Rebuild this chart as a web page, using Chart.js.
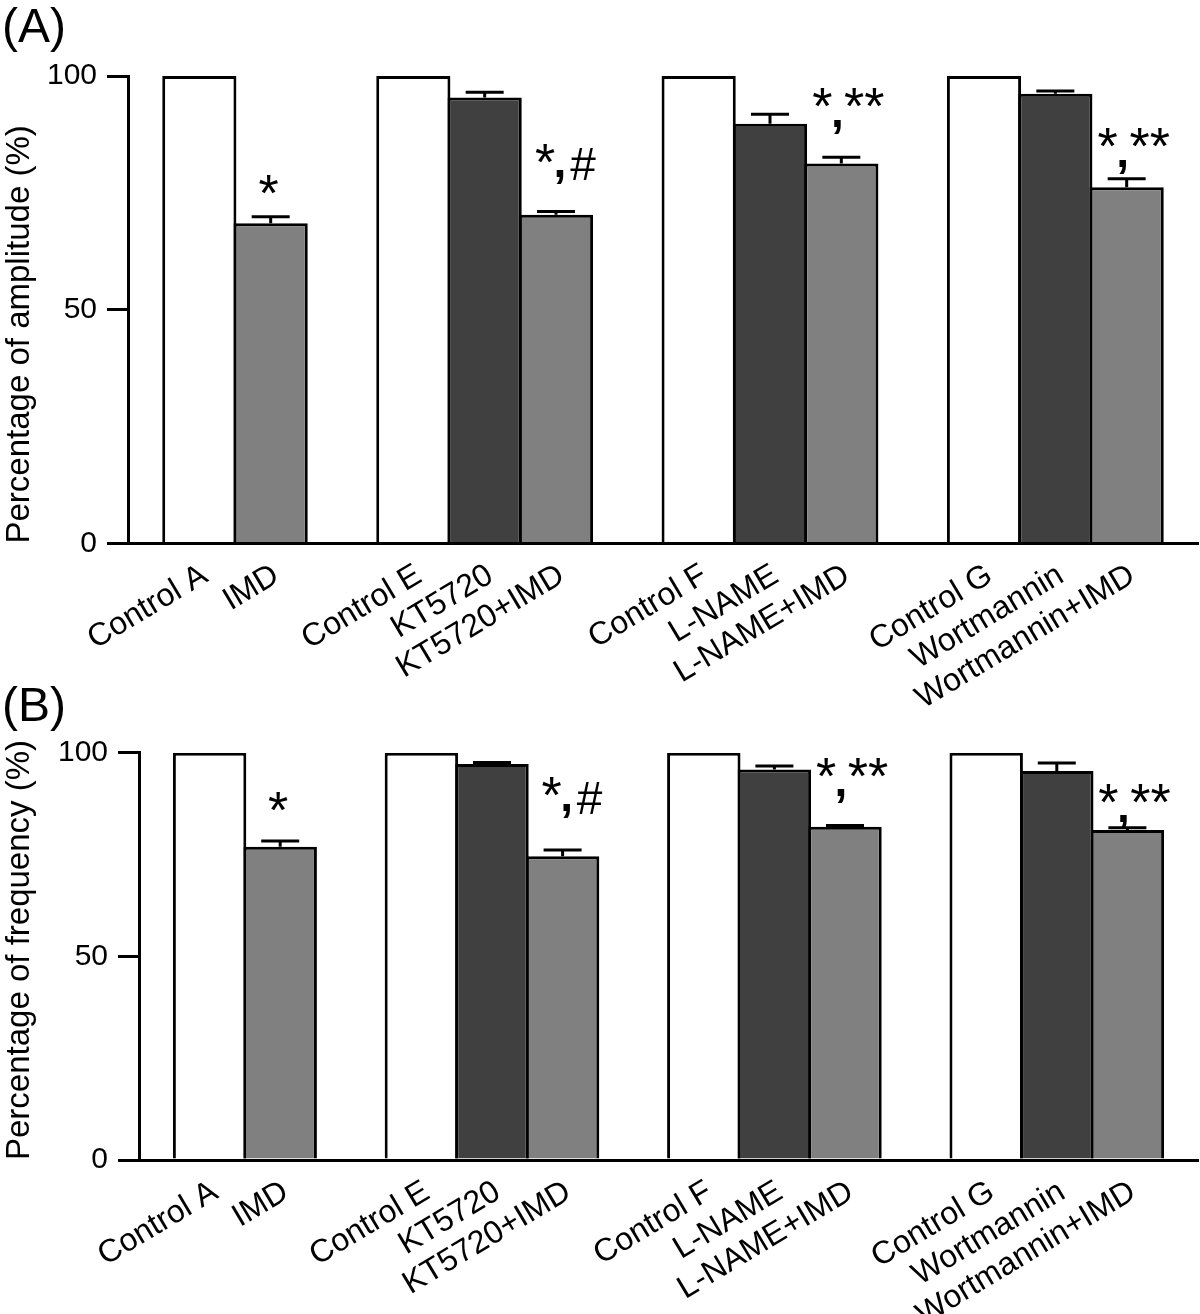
<!DOCTYPE html>
<html>
<head>
<meta charset="utf-8">
<script src="https://cdn.jsdelivr.net/npm/chart.js@4.4.1/dist/chart.umd.min.js"></script>
<style>
    html, body { margin: 0; padding: 0; background: #fff; }
    #page { position: relative; width: 1200px; height: 1314px; overflow: hidden; }
    .panel-label { position: absolute; left: 2px; font: 48px "Liberation Sans", Arial, sans-serif; line-height: 48px; color: #000; z-index: 3; }
    .wrap { position: absolute; left: 0; width: 1200px; }
</style>
</head>
<body>
<div id="page">
    <div class="panel-label" style="top:2px">(A)</div>
    <div class="wrap" style="top:0;height:760px;z-index:1"><canvas id="ampChart" width="1200" height="760"></canvas></div>
    <div class="panel-label" style="top:681px">(B)</div>
    <div class="wrap" style="top:660px;height:654px;z-index:2"><canvas id="freqChart" width="1200" height="654"></canvas></div>
</div>
<script>
// Bars and where they sit on the x axis (empty slots separate the groups)
var categories = ['Control A', 'IMD', 'Control E', 'KT5720', 'KT5720+IMD', 'Control F', 'L-NAME', 'L-NAME+IMD', 'Control G', 'Wortmannin', 'Wortmannin+IMD'];
var slots = [0, 1, 3, 4, 5, 7, 8, 9, 11, 12, 13];
var barKinds = ['control', 'imd', 'control', 'drug', 'imd', 'control', 'drug', 'imd', 'control', 'drug', 'imd'];

// (A) amplitude
var ampValues = [100, 68.5, 100, 95.4, 70.3, 100, 89.8, 81.3, 100, 96.2, 76.2];
var ampErrors = [0, 1.4, 0, 1.1, 0.7, 0, 2.0, 1.3, 0, 0.6, 1.8];
var ampMarks = ['', '*', '', '', '*,#', '', '', '*,**', '', '', '*,**'];
var ampMarkAt = [null, 76.7, null, null, 83.5, null, null, 95.3, null, null, 86.8];

// (B) frequency
var freqValues = [100, 76.9, 100, 97.2, 74.6, 100, 95.9, 81.8, 100, 95.5, 81.0];
var freqErrors = [0, 1.4, 0, 0.4, 1.5, 0, 0.85, 0.35, 0, 2.0, 0.6];
var freqMarks = ['', '*', '', '', '*,#', '', '', '*,**', '', '', '*,**'];
var freqMarkAt = [null, 88.0, null, null, 91.7, null, null, 96.4, null, null, 90.0];

var yTicks = [0, 50, 100];

var fillColors = { control: '#ffffff', drug: '#404040', imd: '#808080' };
var FONT = '"Liberation Sans", Arial, Helvetica, sans-serif';
var LABEL_SHIFT = 0.08; // category labels end a little right of the bar centre

Chart.defaults.font.family = FONT;
Chart.defaults.color = '#000';

// draw text so that its ink is centred on (x, yMid)
function centeredText(ctx, text, x, yMid) {
    var m = ctx.measureText(text);
    var base = yMid + (m.actualBoundingBoxAscent - m.actualBoundingBoxDescent) / 2;
    ctx.fillText(text, x, base);
}

function drawMark(ctx, mark, cx, cy) {
    ctx.textAlign = 'center';
    ctx.textBaseline = 'alphabetic';
    ctx.font = '52px ' + FONT;
    if (mark === '*') {
        centeredText(ctx, '*', cx - 2, cy);
    } else if (mark === '*,#') {
        centeredText(ctx, '*', cx - 11, cy);
        ctx.font = 'bold 46px ' + FONT;
        centeredText(ctx, ',', cx + 4, cy + 24);
        ctx.font = '46px ' + FONT;
        centeredText(ctx, '#', cx + 27, cy + 11);
    } else if (mark === '*,**') {
        centeredText(ctx, '*', cx - 19, cy);
        centeredText(ctx, '**', cx + 23, cy);
        ctx.font = 'bold 46px ' + FONT;
        centeredText(ctx, ',', cx - 4, cy + 29);
    }
}

// error bars (upper half only) and significance marks
var barExtrasPlugin = {
    id: 'barExtras',
    afterDatasetsDraw: function (chart, args, opts) {
        var ctx = chart.ctx;
        var yScale = chart.scales.y;
        var meta = chart.getDatasetMeta(0);
        ctx.save();
        ctx.strokeStyle = '#000';
        ctx.fillStyle = '#000';
        ctx.lineWidth = 3;
        meta.data.forEach(function (bar, i) {
            var err = opts.errors[i];
            if (err > 0) {
                var capY = yScale.getPixelForValue(opts.values[i] + err);
                ctx.beginPath();
                ctx.moveTo(bar.x, bar.y);
                ctx.lineTo(bar.x, capY);
                ctx.moveTo(bar.x - 19, capY);
                ctx.lineTo(bar.x + 19, capY);
                ctx.stroke();
            }
            if (opts.marks[i]) {
                drawMark(ctx, opts.marks[i], bar.x, yScale.getPixelForValue(opts.markAt[i]));
            }
        });
        ctx.restore();
    }
};

function makeChart(canvasId, title, values, errors, marks, markAt, box) {
    var ctx = document.getElementById(canvasId).getContext('2d');
    return new Chart(ctx, {
        type: 'bar',
        data: {
            datasets: [{
                data: slots.map(function (s, i) { return { x: s, y: values[i] }; }),
                backgroundColor: barKinds.map(function (k) { return fillColors[k]; }),
                borderColor: '#000',
                borderWidth: 3,
                barPercentage: 1.04,
                categoryPercentage: 1
            }]
        },
        options: {
            responsive: false,
            animation: false,
            events: [],
            layout: { padding: { top: box.top, right: 2, left: 0, bottom: 0 } },
            plugins: {
                legend: { display: false },
                tooltip: { enabled: false },
                barExtras: { values: values, errors: errors, marks: marks, markAt: markAt }
            },
            scales: {
                x: {
                    type: 'linear',
                    min: -1,
                    max: 14,
                    offset: false,
                    z: 1,
                    grid: { display: false, drawTicks: false, offset: false },
                    border: { display: true, color: '#000', width: 3 },
                    afterBuildTicks: function (scale) {
                        scale.ticks = slots.map(function (s) { return { value: s + LABEL_SHIFT }; });
                    },
                    afterFit: function (scale) {
                        scale.height = box.xHeight;
                        scale.paddingLeft = 0;
                        scale.paddingRight = 0;
                    },
                    ticks: {
                        autoSkip: false,
                        minRotation: 31,
                        maxRotation: 31,
                        padding: 13,
                        color: '#000',
                        font: { size: 32 },
                        callback: function (value, index) { return categories[index]; }
                    }
                },
                y: {
                    min: 0,
                    max: 100,
                    afterBuildTicks: function (scale) {
                        scale.ticks = yTicks.map(function (v) { return { value: v }; });
                    },
                    afterFit: function (scale) {
                        scale.width = box.yWidth;
                        scale.paddingTop = 0;
                        scale.paddingBottom = 0;
                    },
                    grid: { display: true, drawOnChartArea: false, drawTicks: true, tickLength: 21, lineWidth: 3, color: '#000' },
                    border: { display: true, color: '#000', width: 3 },
                    ticks: { padding: 10, color: '#000', font: { size: 30 } },
                    title: { display: true, text: title, align: 'start', color: '#000', font: { size: 33 }, padding: { top: 0, bottom: 0 } }
                }
            }
        },
        plugins: [barExtrasPlugin]
    });
}

makeChart('ampChart', 'Percentage of amplitude (%)', ampValues, ampErrors, ampMarks, ampMarkAt,
    { top: 76, xHeight: 216.5, yWidth: 128 });
makeChart('freqChart', 'Percentage of frequency (%)', freqValues, freqErrors, freqMarks, freqMarkAt,
    { top: 92.7, xHeight: 154, yWidth: 139 });
</script>
</body>
</html>
